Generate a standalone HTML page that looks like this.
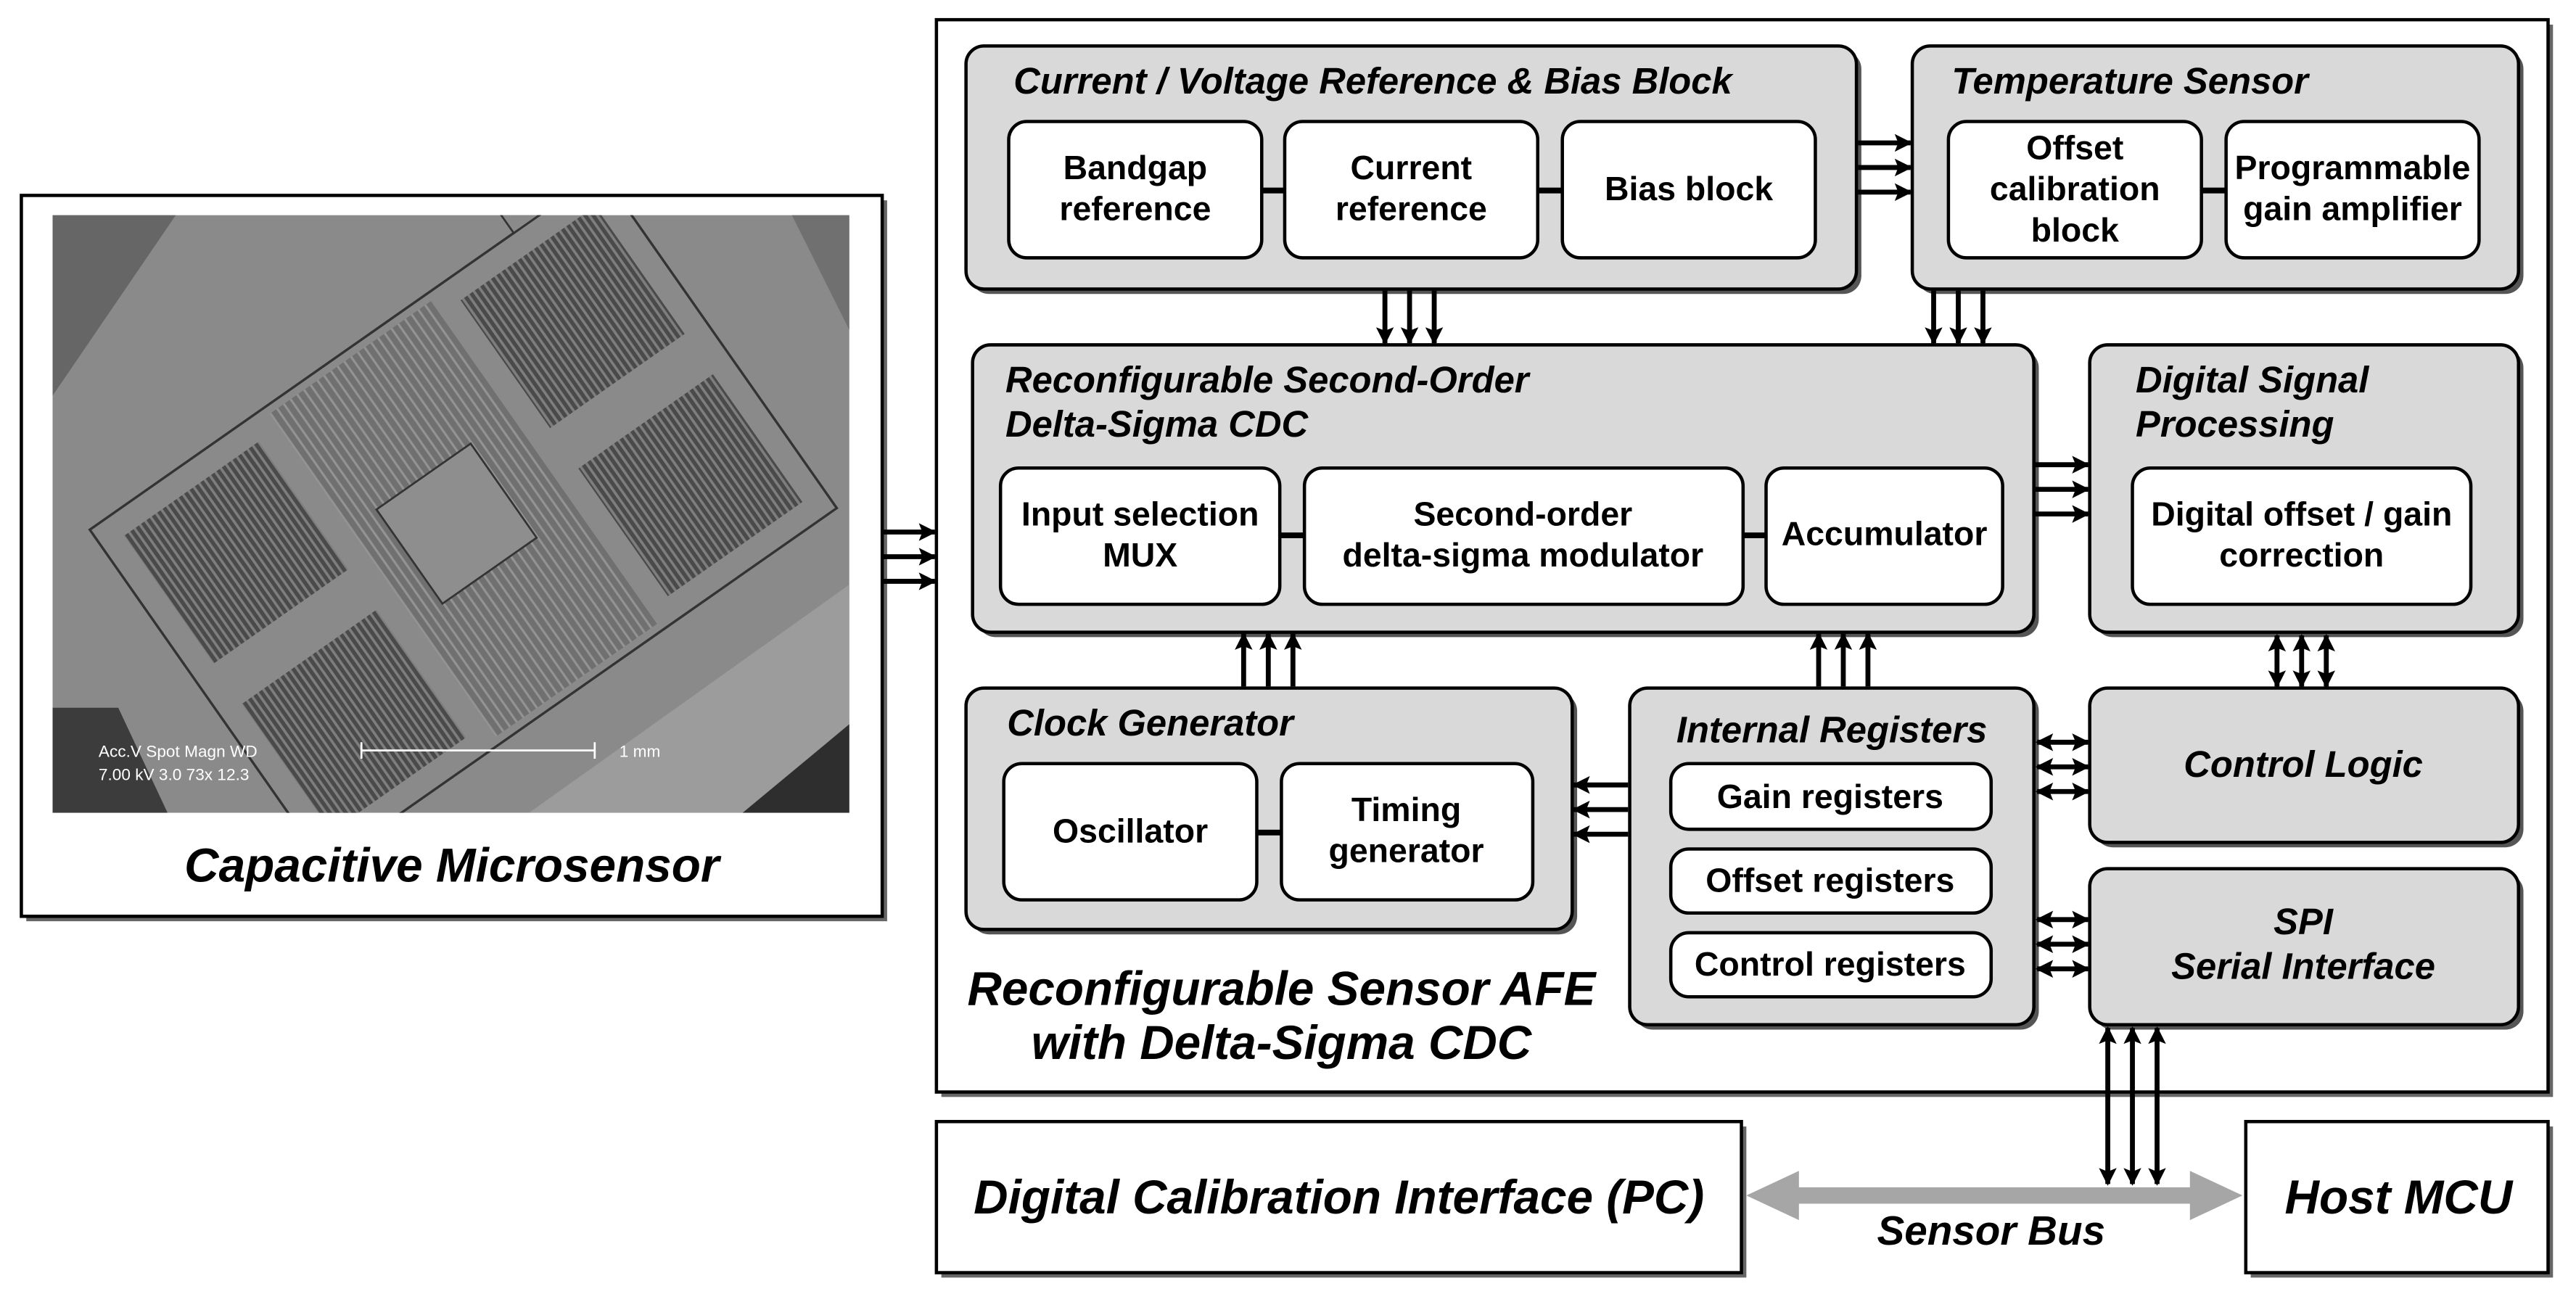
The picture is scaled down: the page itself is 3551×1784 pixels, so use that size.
<!DOCTYPE html>
<html><head><meta charset="utf-8"><style>
html,body{margin:0;padding:0;background:#fff;}
svg{display:block;}
text{font-family:"Liberation Sans",Arial,sans-serif;font-weight:bold;fill:#000;}
.t{font-style:italic;font-size:22.4px;}
.s{font-size:20.5px;text-anchor:middle;}
.big{font-style:italic;font-size:29px;text-anchor:middle;}
</style></head><body>
<svg width="3551" height="1784" viewBox="0 0 1568 788" preserveAspectRatio="none" xmlns="http://www.w3.org/2000/svg">
<defs>
<marker id="a" viewBox="0 0 10 10" refX="9" refY="5" markerWidth="3.8" markerHeight="3.6" orient="auto-start-reverse" markerUnits="strokeWidth">
<path d="M0,0 L10,5 L0,10 L2,5 z" fill="#000"/></marker>
<pattern id="st" width="4" height="4" patternUnits="userSpaceOnUse"><rect width="4" height="4" fill="#4a4a4a"/><rect width="1.6" height="4" fill="#7e7e7e"/></pattern>
<pattern id="st2" width="5" height="5" patternUnits="userSpaceOnUse"><rect width="5" height="5" fill="#707070"/><rect width="1.4" height="5" fill="#939393"/></pattern>
</defs>

<rect x="16" y="122" width="524" height="439" fill="#666"/>
<rect x="13" y="119" width="524" height="439" fill="#fff" stroke="#000" stroke-width="2"/>
<svg x="32" y="131" width="485" height="364" viewBox="0 0 485 364">
<rect width="485" height="364" fill="#8a8a8a"/>
<path d="M0,0 L75,0 L0,110 z" fill="#666"/>
<path d="M450,0 L485,0 L485,70 z" fill="#707070"/>
<path d="M290,364 L485,225 L485,364 z" fill="#9c9c9c"/>
<path d="M420,364 L485,310 L485,364 z" fill="#2e2e2e"/>
<path d="M0,300 L40,300 L70,364 L0,364 z" fill="#3c3c3c"/>
<g transform="translate(250,185) rotate(-35)">
<rect x="-190" y="-125" width="380" height="250" fill="none" stroke="#333" stroke-width="1.5"/>
<rect x="-175" y="-110" width="100" height="95" fill="url(#st)"/>
<rect x="-175" y="15" width="100" height="95" fill="url(#st)"/>
<rect x="75" y="-110" width="100" height="95" fill="url(#st)"/>
<rect x="75" y="15" width="100" height="95" fill="url(#st)"/>
<rect x="-60" y="-120" width="120" height="240" fill="url(#st2)"/>
<rect x="-40" y="-35" width="70" height="70" fill="#8e8e8e" stroke="#333" stroke-width="1.2"/>
<rect x="125" y="-175" width="55" height="50" fill="#8a8a8a" stroke="#333" stroke-width="1.2"/>
</g>
<text x="28" y="330" style="font-size:10px;font-weight:normal;fill:#fff">Acc.V   Spot Magn    WD</text>
<text x="28" y="344" style="font-size:10px;font-weight:normal;fill:#fff">7.00 kV 3.0    73x         12.3</text>
<line x1="188" y1="326" x2="330" y2="326" stroke="#fff" stroke-width="1.2"/>
<line x1="188" y1="321" x2="188" y2="331" stroke="#fff" stroke-width="1.2"/>
<line x1="330" y1="321" x2="330" y2="331" stroke="#fff" stroke-width="1.2"/>
<text x="345" y="330" style="font-size:10px;font-weight:normal;fill:#fff">1 mm</text>
</svg>
<text class="big" x="275" y="537">Capacitive Microsensor</text>

<g stroke="#000" stroke-width="3" marker-end="url(#a)">
<line x1="537" y1="324" x2="569" y2="324"/><line x1="537" y1="339" x2="569" y2="339"/><line x1="537" y1="354" x2="569" y2="354"/>
</g>

<rect x="573" y="15" width="981" height="653" fill="#666"/>
<rect x="570" y="12" width="981" height="653" fill="#fff" stroke="#000" stroke-width="2"/>

<g>
<rect x="591" y="31" width="542" height="148" rx="11" fill="#555"/>
<rect x="588" y="28" width="542" height="148" rx="11" fill="#d9d9d9" stroke="#000" stroke-width="2"/>
<rect x="1167" y="31" width="369" height="148" rx="11" fill="#555"/>
<rect x="1164" y="28" width="369" height="148" rx="11" fill="#d9d9d9" stroke="#000" stroke-width="2"/>
<rect x="595" y="213" width="646" height="175" rx="11" fill="#555"/>
<rect x="592" y="210" width="646" height="175" rx="11" fill="#d9d9d9" stroke="#000" stroke-width="2"/>
<rect x="1275" y="213" width="261" height="175" rx="11" fill="#555"/>
<rect x="1272" y="210" width="261" height="175" rx="11" fill="#d9d9d9" stroke="#000" stroke-width="2"/>
<rect x="591" y="422" width="369" height="147" rx="11" fill="#555"/>
<rect x="588" y="419" width="369" height="147" rx="11" fill="#d9d9d9" stroke="#000" stroke-width="2"/>
<rect x="995" y="422" width="246" height="205" rx="11" fill="#555"/>
<rect x="992" y="419" width="246" height="205" rx="11" fill="#d9d9d9" stroke="#000" stroke-width="2"/>
<rect x="1275" y="422" width="261" height="94" rx="11" fill="#555"/>
<rect x="1272" y="419" width="261" height="94" rx="11" fill="#d9d9d9" stroke="#000" stroke-width="2"/>
<rect x="1275" y="532" width="261" height="95" rx="11" fill="#555"/>
<rect x="1272" y="529" width="261" height="95" rx="11" fill="#d9d9d9" stroke="#000" stroke-width="2"/>
</g>

<g stroke="#000" stroke-width="3.5">
<line x1="768" y1="116" x2="782" y2="116"/><line x1="936" y1="116" x2="951" y2="116"/>
<line x1="1340" y1="116" x2="1355" y2="116"/>
<line x1="779" y1="326" x2="794" y2="326"/><line x1="1061" y1="326" x2="1075" y2="326"/>
<line x1="765" y1="507" x2="780" y2="507"/>
</g>

<g fill="#fff" stroke="#000" stroke-width="2">
<rect x="614" y="74" width="154" height="83" rx="11"/>
<rect x="782" y="74" width="154" height="83" rx="11"/>
<rect x="951" y="74" width="154" height="83" rx="11"/>
<rect x="1186" y="74" width="154" height="83" rx="11"/>
<rect x="1355" y="74" width="154" height="83" rx="11"/>
<rect x="609" y="285" width="170" height="83" rx="11"/>
<rect x="794" y="285" width="267" height="83" rx="11"/>
<rect x="1075" y="285" width="144" height="83" rx="11"/>
<rect x="1298" y="285" width="206" height="83" rx="11"/>
<rect x="611" y="465" width="154" height="83" rx="11"/>
<rect x="780" y="465" width="153" height="83" rx="11"/>
<rect x="1017" y="465" width="195" height="40" rx="11"/>
<rect x="1017" y="517" width="195" height="39" rx="11"/>
<rect x="1017" y="568" width="195" height="39" rx="11"/>
</g>

<text class="t" x="617" y="57">Current / Voltage Reference &amp; Bias Block</text>
<text class="t" x="1188" y="57">Temperature Sensor</text>
<text class="t" x="612" y="239">Reconfigurable Second-Order</text>
<text class="t" x="612" y="266">Delta-Sigma CDC</text>
<text class="t" x="1300" y="239">Digital Signal</text>
<text class="t" x="1300" y="266">Processing</text>
<text class="t" x="613" y="448">Clock Generator</text>
<text class="t" x="1115" y="452" text-anchor="middle">Internal Registers</text>
<text class="t" x="1402" y="473" text-anchor="middle">Control Logic</text>
<text class="t" x="1402" y="569" text-anchor="middle">SPI</text>
<text class="t" x="1402" y="596" text-anchor="middle">Serial Interface</text>

<text class="s" x="691" y="109">Bandgap</text><text class="s" x="691" y="134">reference</text>
<text class="s" x="859" y="109">Current</text><text class="s" x="859" y="134">reference</text>
<text class="s" x="1028" y="122">Bias block</text>
<text class="s" x="1263" y="97">Offset</text><text class="s" x="1263" y="122">calibration</text><text class="s" x="1263" y="147">block</text>
<text class="s" x="1432" y="109">Programmable</text><text class="s" x="1432" y="134">gain amplifier</text>
<text class="s" x="694" y="320">Input selection</text><text class="s" x="694" y="345">MUX</text>
<text class="s" x="927" y="320">Second-order</text><text class="s" x="927" y="345">delta-sigma modulator</text>
<text class="s" x="1147" y="332">Accumulator</text>
<text class="s" x="1401" y="320">Digital offset / gain</text><text class="s" x="1401" y="345">correction</text>
<text class="s" x="688" y="513">Oscillator</text>
<text class="s" x="856" y="500">Timing</text><text class="s" x="856" y="525">generator</text>
<text class="s" x="1114" y="492">Gain registers</text>
<text class="s" x="1114" y="543">Offset registers</text>
<text class="s" x="1114" y="594">Control registers</text>

<g stroke="#000" stroke-width="3" marker-end="url(#a)">
<line x1="1131" y1="87" x2="1163" y2="87"/><line x1="1131" y1="102" x2="1163" y2="102"/><line x1="1131" y1="117" x2="1163" y2="117"/>
<line x1="843" y1="177" x2="843" y2="209"/><line x1="858" y1="177" x2="858" y2="209"/><line x1="873" y1="177" x2="873" y2="209"/>
<line x1="1177" y1="177" x2="1177" y2="209"/><line x1="1192" y1="177" x2="1192" y2="209"/><line x1="1207" y1="177" x2="1207" y2="209"/>
<line x1="1239" y1="283" x2="1271" y2="283"/><line x1="1239" y1="298" x2="1271" y2="298"/><line x1="1239" y1="313" x2="1271" y2="313"/>
<line x1="757" y1="418" x2="757" y2="386"/><line x1="772" y1="418" x2="772" y2="386"/><line x1="787" y1="418" x2="787" y2="386"/>
<line x1="1107" y1="418" x2="1107" y2="386"/><line x1="1122" y1="418" x2="1122" y2="386"/><line x1="1137" y1="418" x2="1137" y2="386"/>
<line x1="991" y1="478" x2="958" y2="478"/><line x1="991" y1="493" x2="958" y2="493"/><line x1="991" y1="508" x2="958" y2="508"/>
</g>
<g stroke="#000" stroke-width="3" marker-end="url(#a)" marker-start="url(#a)">
<line x1="1386" y1="387" x2="1386" y2="418"/><line x1="1401" y1="387" x2="1401" y2="418"/><line x1="1416" y1="387" x2="1416" y2="418"/>
<line x1="1240" y1="452" x2="1271" y2="452"/><line x1="1240" y1="467" x2="1271" y2="467"/><line x1="1240" y1="482" x2="1271" y2="482"/>
<line x1="1240" y1="560" x2="1271" y2="560"/><line x1="1240" y1="575" x2="1271" y2="575"/><line x1="1240" y1="590" x2="1271" y2="590"/>
<line x1="1283" y1="626" x2="1283" y2="721"/><line x1="1298" y1="626" x2="1298" y2="721"/><line x1="1313" y1="626" x2="1313" y2="721"/>
</g>

<text class="big" x="780" y="612">Reconfigurable Sensor AFE</text>
<text class="big" x="780" y="645">with Delta-Sigma CDC</text>

<rect x="573" y="686" width="490" height="92" fill="#666"/>
<rect x="570" y="683" width="490" height="92" fill="#fff" stroke="#000" stroke-width="2"/>
<text class="big" x="815" y="739">Digital Calibration Interface (PC)</text>
<rect x="1370" y="686" width="184" height="92" fill="#666"/>
<rect x="1367" y="683" width="184" height="92" fill="#fff" stroke="#000" stroke-width="2"/>
<text class="big" x="1460" y="739">Host MCU</text>

<path d="M1063,728 L1095,713 L1095,723 L1333,723 L1333,713 L1365,728 L1333,743 L1333,733 L1095,733 L1095,743 z" fill="#a6a6a6"/>
<text class="t" x="1212" y="758" text-anchor="middle" style="font-size:25px">Sensor Bus</text>
</svg>
</body></html>
